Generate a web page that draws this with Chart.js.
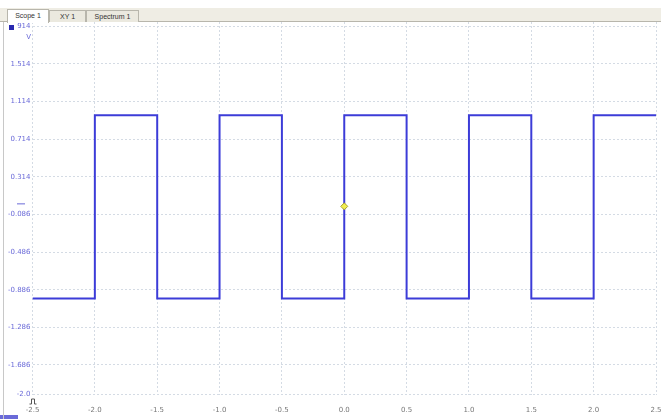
<!DOCTYPE html>
<html>
<head>
<meta charset="utf-8">
<script src="https://cdn.jsdelivr.net/npm/chart.js@4/dist/chart.umd.min.js"></script>
<style>
    html, body { margin: 0; padding: 0; background: #fff; }
    #wrap { position: relative; width: 661px; height: 419px; overflow: hidden; font-family: "DejaVu Sans", sans-serif; }
    #tabbar { position: absolute; left: 0; top: 8px; width: 661px; height: 13px; background: #efede4; border-bottom: 1px solid #b8b6ac; }
    .tab { position: absolute; top: 2px; height: 11px; border: 1px solid #b8b6ac; border-bottom: none; background: #ebe9df;
           font: 7px "Liberation Sans", sans-serif; color: #333; text-align: center; line-height: 11px; }
    .tab.active { background: #fff; top: 1px; height: 13px; }
    #leftline { position: absolute; left: 3px; top: 22px; width: 1px; height: 397px; background: #c8c8c8; }
    canvas { position: absolute; left: 0; top: 0; }
</style>
</head>
<body>
<div id="wrap">
    <canvas id="scopeChart" width="661" height="419"></canvas>
    <div id="tabbar">
        <div class="tab active" style="left:7px;width:40px;">Scope 1</div>
        <div class="tab" style="left:49px;width:35px;">XY 1</div>
        <div class="tab" style="left:86px;width:51px;">Spectrum 1</div>
    </div>
    <div id="leftline"></div>
</div>
<script>
// ข้อมูลสัญญาณสี่เหลี่ยม (เวลาที่เปลี่ยนระดับ และระดับหลังเปลี่ยน)
var edgeTimes = [-2.5, -2.0, -1.5, -1.0, -0.5, 0.0, 0.5, 1.0, 1.5, 2.0, 2.5];
var levels    = [-0.98, 0.97, -0.98, 0.97, -0.98, 0.97, -0.98, 0.97, -0.98, 0.97, 0.97];

// ป้ายแกน
var xTicks = [-2.5, -2.0, -1.5, -1.0, -0.5, 0.0, 0.5, 1.0, 1.5, 2.0, 2.5];
var yTicks = [1.914, 1.514, 1.114, 0.714, 0.314, -0.086, -0.486, -0.886, -1.286, -1.686, -2.0];
var yLabels = ['914', '1.514', '1.114', '0.714', '0.314', '-0.086', '-0.486', '-0.886', '-1.286', '-1.686', '-2.0'];

// จุดทริกเกอร์
var triggerPoint = [{ x: 0.0, y: 0.0 }];

var wave = edgeTimes.map(function(t, i) { return { x: t, y: levels[i] }; });

// ปลั๊กอินวาดสัญลักษณ์เพิ่มเติมบนแกน
var extras = {
    id: 'extras',
    afterDraw: function(chart) {
        var ctx = chart.ctx;
        var ys = chart.scales.y;
        var xs = chart.scales.x;
        ctx.save();
        // ไอคอนช่องสัญญาณ
        ctx.fillStyle = '#2a2ab0';
        ctx.fillRect(9, 25, 5, 5);
        ctx.fillStyle = '#6a6ad8';
        ctx.font = '7px "DejaVu Sans"';
        ctx.textAlign = 'right';
        ctx.textBaseline = 'middle';
        ctx.fillText('V', 31, 37);
        // เครื่องหมายระดับศูนย์
        var y0 = ys.getPixelForValue(0);
        ctx.strokeStyle = '#6a6ad8';
        ctx.lineWidth = 1;
        ctx.beginPath();
        ctx.moveTo(17, y0 - 2.5);
        ctx.lineTo(25, y0 - 2.5);
        ctx.stroke();
        // ไอคอนทริกเกอร์เวลา
        var xl = xs.getPixelForValue(-2.5);
        ctx.strokeStyle = '#555';
        ctx.beginPath();
        ctx.moveTo(xl - 3, 404);
        ctx.lineTo(xl - 1, 404);
        ctx.lineTo(xl - 1, 399);
        ctx.lineTo(xl + 2, 399);
        ctx.lineTo(xl + 2, 404);
        ctx.lineTo(xl + 4, 404);
        ctx.stroke();
        ctx.fillStyle = '#6a6ad8';
        ctx.fillRect(0, 415, 18, 4);
        ctx.restore();
    }
};

var ctx = document.getElementById('scopeChart').getContext('2d');
var chart = new Chart(ctx, {
    type: 'line',
    data: {
        datasets: [
            {
                data: wave,
                borderColor: '#3c3cd8',
                borderWidth: 2,
                stepped: 'before',
                pointRadius: 0,
                fill: false,
                order: 2
            },
            {
                type: 'scatter',
                data: triggerPoint,
                pointStyle: 'rectRot',
                pointRadius: 3.5,
                backgroundColor: '#f2ee50',
                borderColor: '#a8a030',
                borderWidth: 1,
                order: 1
            }
        ]
    },
    options: {
        responsive: false,
        animation: false,
        layout: { padding: { top: 22, right: 3.5, left: 0, bottom: 0 } },
        plugins: {
            legend: { display: false },
            tooltip: { enabled: false }
        },
        scales: {
            x: {
                type: 'linear',
                min: -2.5,
                max: 2.5,
                afterBuildTicks: function(scale) {
                    scale.ticks = xTicks.map(function(v) { return { value: v }; });
                },
                afterFit: function(scale) {
                    scale.height = 24.5;
                    scale.paddingLeft = 0;
                    scale.paddingRight = 0;
                },
                grid: { color: '#d4dbe4', drawTicks: false, tickLength: 0 },
                border: { display: false, dash: [2, 2] },
                ticks: {
                    color: '#777',
                    padding: 11,
                    maxRotation: 0,
                    font: { family: 'DejaVu Sans', size: 7 },
                    callback: function(v) { return v.toFixed(1); }
                }
            },
            y: {
                type: 'linear',
                min: -2.0,
                max: 1.96,
                afterBuildTicks: function(scale) {
                    scale.ticks = yTicks.map(function(v) { return { value: v }; });
                },
                afterFit: function(scale) {
                    scale.width = 32.5;
                    scale.paddingTop = 0;
                    scale.paddingBottom = 0;
                },
                grid: { color: '#d4dbe4', drawTicks: false, tickLength: 0 },
                border: { display: false, dash: [2, 2] },
                ticks: {
                    color: '#6a6ad8',
                    padding: 2,
                    font: { family: 'DejaVu Sans', size: 7 },
                    callback: function(v, i) { return yLabels[i]; }
                }
            }
        }
    },
    plugins: [extras]
});
</script>
</body>
</html>
